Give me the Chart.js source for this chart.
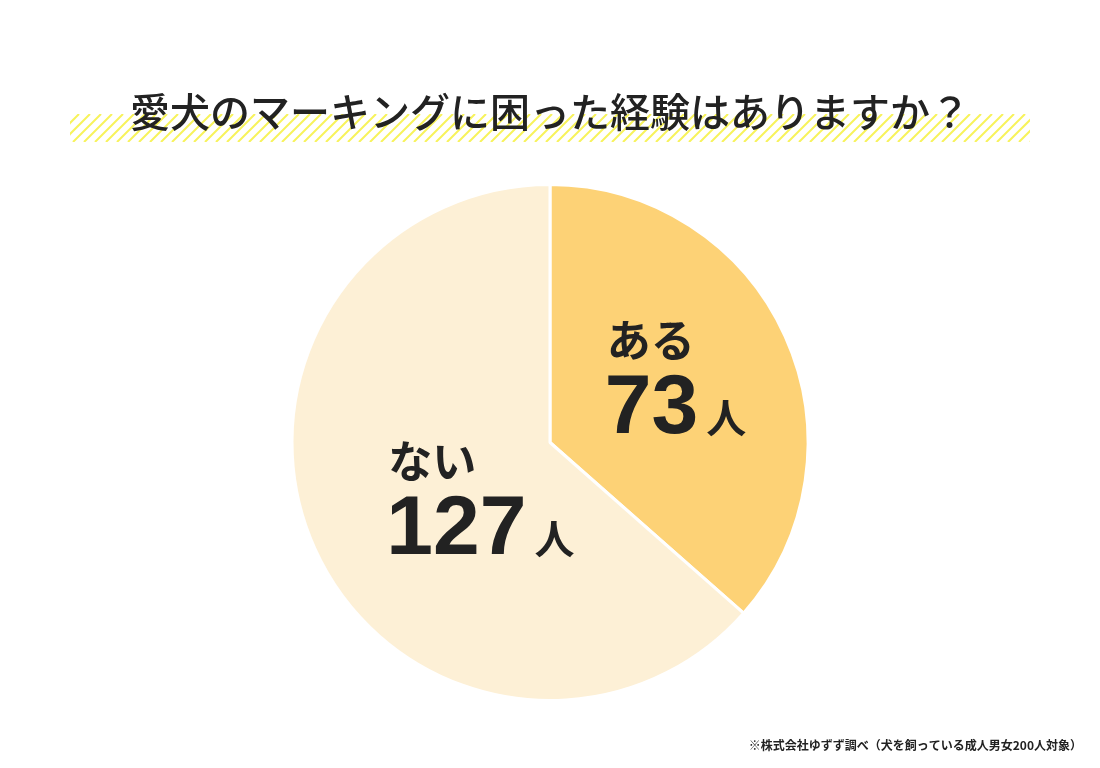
<!DOCTYPE html>
<html><head><meta charset="utf-8">
<script src="https://cdn.jsdelivr.net/npm/chart.js@4"></script>
<style>html,body{margin:0;padding:0;background:#fff}</style>
</head><body>
<canvas id="c" width="1100" height="768"></canvas>
<script>
const categories = ["ある", "ない"];
const values = [73, 127];
const unit = "人";
const title = "愛犬のマーキングに困った経験はありますか？";
const note = "※株式会社ゆずず調べ（犬を飼っている成人男女200人対象）";
const colors = ["#FDD276", "#FDF0D6"];
const FONT = '"Noto Sans CJK JP", "Noto Sans", sans-serif';

const deco = {
  id: 'deco',
  beforeDraw(chart) {
    const ctx = chart.ctx;
    ctx.save();
    ctx.beginPath(); ctx.rect(70, 114, 960, 28); ctx.clip();
    ctx.strokeStyle = '#F7F35A'; ctx.lineWidth = 2;
    for (let x = 40; x < 1080; x += 11) {
      ctx.beginPath(); ctx.moveTo(x, 142); ctx.lineTo(x + 28, 114); ctx.stroke();
    }
    ctx.restore();
    ctx.save();
    ctx.fillStyle = '#222'; ctx.textAlign = 'center'; ctx.textBaseline = 'middle';
    ctx.font = '500 40px ' + FONT;
    ctx.fillText(title, 550, 112);
    ctx.font = 'bold 12px ' + FONT; ctx.textAlign = 'right';
    ctx.fillText(note, 1082, 745);
    ctx.restore();
  },
  afterDatasetsDraw(chart) {
    const ctx = chart.ctx;
    const meta = chart.getDatasetMeta(0);
    const offs = [[8, -4], [48, 10]];
    meta.data.forEach((arc, i) => {
      const mid = (arc.startAngle + arc.endAngle) / 2;
      const r = arc.outerRadius * 0.5;
      const cx = arc.x + Math.cos(mid) * r + offs[i][0];
      const cy = arc.y + Math.sin(mid) * r + offs[i][1];
      ctx.save();
      ctx.fillStyle = '#222'; ctx.textBaseline = 'alphabetic';
      ctx.font = 'bold 84px "Liberation Sans", Arial, sans-serif';
      const num = String(values[i]);
      const nw = ctx.measureText(num).width;
      ctx.font = 'bold 40px ' + FONT;
      const uw = ctx.measureText(unit).width;
      const total = nw + 8 + uw;
      const left = cx - total / 2;
      ctx.font = 'bold 84px "Liberation Sans", Arial, sans-serif';
      ctx.textAlign = 'left';
      ctx.fillText(num, left, cy + 48);
      ctx.font = 'bold 40px ' + FONT;
      ctx.fillText(unit, left + nw + 8, cy + 48);
      ctx.font = 'bold 44px ' + FONT;
      ctx.fillText(categories[i], left + 2, cy - 28);
      ctx.restore();
    });
  }
};

new Chart(document.getElementById('c'), {
  type: 'pie',
  data: { labels: categories, datasets: [{ data: values, backgroundColor: colors, borderColor: '#fff', borderWidth: 3 }] },
  options: {
    responsive: false, animation: false,
    layout: { padding: { top: 183, bottom: 66, left: 290, right: 290 } },
    plugins: { legend: { display: false }, tooltip: { enabled: false } }
  },
  plugins: [deco]
});
</script>
</body></html>
